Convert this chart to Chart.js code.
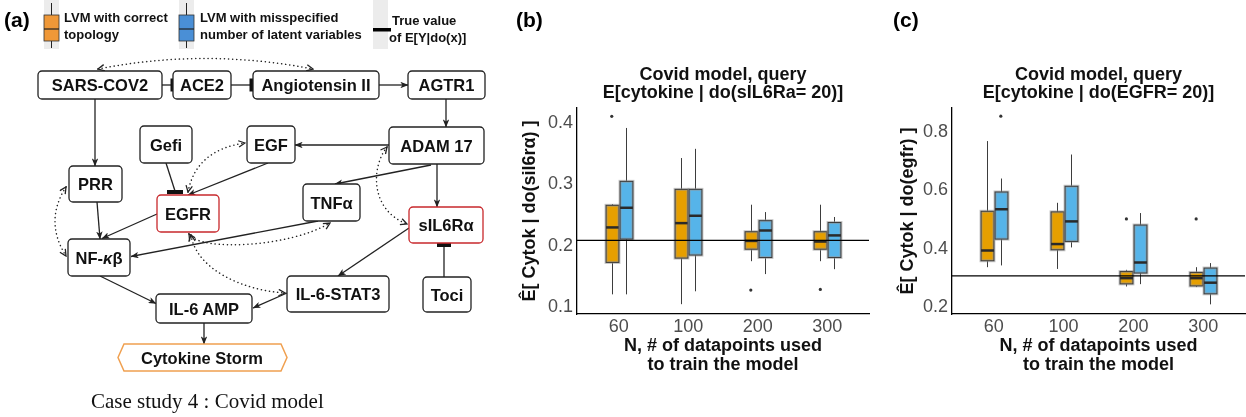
<!DOCTYPE html>
<html>
<head>
<meta charset="utf-8">
<script src="https://cdn.jsdelivr.net/npm/chart.js@4.4.1/dist/chart.umd.min.js"></script>
<style>
  body { margin: 0; width: 1246px; height: 417px; background: #fff; position: relative; overflow: hidden; font-family: 'Liberation Sans', Arial, sans-serif; }
  #esquema { position: absolute; left: 0; top: 0; z-index: 2; pointer-events: none; }
  .panel { position: absolute; top: 0; }
  #panelB { left: 500px; }
  #panelC { left: 880px; }
  .nodo { fill: #fff; stroke: #222; stroke-width: 1.3; }
  .rojo { stroke: #c8282c; }
  .txt { font: bold 16.5px 'Liberation Sans', Arial, sans-serif; text-anchor: middle; dominant-baseline: central; fill: #111; }
  .ley { font: bold 13px 'Liberation Sans', Arial, sans-serif; fill: #111; }
  .flecha { stroke: #222; stroke-width: 1.3; fill: none; marker-end: url(#punta); }
  .linea { stroke: #222; stroke-width: 1.3; fill: none; }
  .punteada { stroke: #222; stroke-width: 1.5; fill: none; stroke-dasharray: 0.1 4; stroke-linecap: round; marker-start: url(#abierta); marker-end: url(#abierta); }
</style>
</head>
<body>

<svg id="esquema" width="1246" height="417">
  <defs>
    <marker id="punta" viewBox="0 0 10 8" refX="9.5" refY="4" markerWidth="8" markerHeight="6.4" orient="auto" markerUnits="userSpaceOnUse">
      <path d="M0,0 L10,4 L0,8 L2.5,4 z" fill="#222"/>
    </marker>
    <marker id="abierta" viewBox="0 0 10 10" refX="9" refY="5" markerWidth="8" markerHeight="8" orient="auto-start-reverse" markerUnits="userSpaceOnUse">
      <path d="M1,1 L9,5 L1,9" fill="none" stroke="#222" stroke-width="1.6"/>
    </marker>
  </defs>

  <!-- etiquetas de panel -->
  <text x="4" y="26.5" style="font: bold 21px 'Liberation Sans', Arial, sans-serif;">(a)</text>
  <text x="516" y="26.5" style="font: bold 21px 'Liberation Sans', Arial, sans-serif;">(b)</text>
  <text x="893" y="26.5" style="font: bold 21px 'Liberation Sans', Arial, sans-serif;">(c)</text>

  <!-- leyenda -->
  <rect x="44" y="0" width="15" height="49" fill="#ececec"/>
  <line x1="51.5" y1="3" x2="51.5" y2="48" stroke="#222" stroke-width="1"/>
  <rect x="44" y="15" width="15" height="26" fill="#EF9838" stroke="#333" stroke-width="0.8"/>
  <line x1="44" y1="29" x2="59" y2="29" stroke="#222" stroke-width="1.2"/>
  <text class="ley" x="64" y="22">LVM with correct</text>
  <text class="ley" x="64" y="39">topology</text>

  <rect x="179" y="0" width="15" height="49" fill="#ececec"/>
  <line x1="186.5" y1="3" x2="186.5" y2="48" stroke="#222" stroke-width="1"/>
  <rect x="179" y="15" width="15" height="26" fill="#4A8FD6" stroke="#333" stroke-width="0.8"/>
  <line x1="179" y1="29" x2="194" y2="29" stroke="#222" stroke-width="1.2"/>
  <text class="ley" x="200" y="22">LVM with misspecified</text>
  <text class="ley" x="200" y="39">number of latent variables</text>

  <rect x="373" y="0" width="15" height="49" fill="#ececec"/>
  <rect x="373" y="28" width="18" height="3.5" fill="#000"/>
  <text class="ley" x="392" y="25">True value</text>
  <text class="ley" x="389" y="42">of E[Y|do(x)]</text>

  <!-- aristas -->
  <line class="linea" x1="162" y1="85" x2="171" y2="85"/>
  <rect x="170.5" y="78.5" width="3.5" height="13" fill="#111"/>
  <line class="linea" x1="231" y1="85" x2="250" y2="85"/>
  <rect x="249.5" y="78.5" width="3.5" height="13" fill="#111"/>
  <line class="flecha" x1="379" y1="85" x2="408" y2="85"/>
  <line class="flecha" x1="446" y1="99" x2="446" y2="127"/>
  <path class="punteada" d="M98,69 Q205,48 313,69"/>
  <line class="flecha" x1="95" y1="99" x2="95" y2="166"/>
  <line class="flecha" x1="389" y1="145" x2="295" y2="145"/>
  <line class="flecha" x1="268" y1="163" x2="188" y2="195"/>
  <line class="linea" x1="166" y1="163" x2="175" y2="191"/>
  <rect x="167" y="190" width="16" height="4" fill="#111"/>
  <path class="punteada" d="M188,192 Q196,150 245,143"/>
  <line class="flecha" x1="97" y1="202" x2="100" y2="239"/>
  <line class="flecha" x1="157" y1="214" x2="102" y2="238.5"/>
  <path class="punteada" d="M66,187 Q44,221 66,256"/>
  <line class="flecha" x1="431" y1="165" x2="335" y2="184"/>
  <line class="flecha" x1="437" y1="164" x2="437" y2="207"/>
  <line class="flecha" x1="318" y1="221" x2="131" y2="256.5"/>
  <path class="punteada" d="M189,234 C200,252 290,247 330,223"/>
  <path class="punteada" d="M387,147 C371,167 370,210 407,224"/>
  <line class="flecha" x1="409" y1="228" x2="338" y2="276"/>
  <line class="linea" x1="444" y1="277" x2="444" y2="246"/>
  <rect x="437" y="243" width="14" height="4" fill="#111"/>
  <line class="flecha" x1="100" y1="276" x2="156" y2="303.5"/>
  <line class="flecha" x1="287" y1="293" x2="253" y2="308"/>
  <path class="punteada" d="M191,235 C196,268 240,290 285,293"/>
  <line class="flecha" x1="204" y1="323" x2="204" y2="344"/>

  <!-- nodos -->
  <rect class="nodo" x="38" y="71" width="124" height="28" rx="4"/><text class="txt" x="100" y="85">SARS-COV2</text>
  <rect class="nodo" x="173" y="71" width="58" height="28" rx="4"/><text class="txt" x="202" y="85">ACE2</text>
  <rect class="nodo" x="253" y="71" width="126" height="28" rx="4"/><text class="txt" x="316" y="85">Angiotensin II</text>
  <rect class="nodo" x="408" y="71" width="77" height="28" rx="4"/><text class="txt" x="446.5" y="85">AGTR1</text>
  <rect class="nodo" x="140" y="126" width="52" height="37" rx="4"/><text class="txt" x="166" y="144.5">Gefi</text>
  <rect class="nodo" x="247" y="126" width="48" height="37" rx="4"/><text class="txt" x="271" y="144.5">EGF</text>
  <rect class="nodo" x="389" y="127" width="95" height="37" rx="4"/><text class="txt" x="436.5" y="145.5">ADAM 17</text>
  <rect class="nodo" x="69" y="166" width="53" height="36" rx="4"/><text class="txt" x="95.5" y="184">PRR</text>
  <rect class="nodo rojo" x="157" y="195" width="62" height="37" rx="4"/><text class="txt" x="188" y="213.5">EGFR</text>
  <rect class="nodo" x="303" y="184" width="57" height="37" rx="4"/><text class="txt" x="331.5" y="202.5">TNFα</text>
  <rect class="nodo rojo" x="409" y="207" width="74" height="36" rx="4"/><text class="txt" x="446" y="225">sIL6Rα</text>
  <rect class="nodo" x="68" y="239" width="62" height="37" rx="4"/><text class="txt" x="99" y="257.5">NF-<tspan font-style="italic">κ</tspan>β</text>
  <rect class="nodo" x="287" y="276" width="102" height="36" rx="4"/><text class="txt" x="338" y="294">IL-6-STAT3</text>
  <rect class="nodo" x="423" y="277" width="48" height="35" rx="4"/><text class="txt" x="447" y="294.5">Toci</text>
  <rect class="nodo" x="156" y="294" width="96" height="29" rx="4"/><text class="txt" x="204" y="308.5">IL-6 AMP</text>
  <polygon points="118,357.5 124,344 281,344 287,357.5 281,371 124,371" fill="#fff" stroke="#F0A050" stroke-width="1.5"/>
  <text class="txt" x="202" y="357.5">Cytokine Storm</text>

  <text x="91" y="408" style="font: 21px 'Liberation Serif', 'Times New Roman', serif;" fill="#111">Case study 4 : Covid model</text>
</svg>

<div class="panel" id="panelB"><canvas id="chartB" width="380" height="417"></canvas></div>
<div class="panel" id="panelC"><canvas id="chartC" width="369" height="417"></canvas></div>

<script>
// --- DATOS ---
const categorias = ['60', '100', '200', '300'];

// cada caja: [bigote inferior, Q1, mediana, Q3, bigote superior]
const sil6Correcta = [[0.121, 0.173, 0.230, 0.266, 0.268], [0.105, 0.180, 0.237, 0.292, 0.343], [0.175, 0.1945, 0.208, 0.223, 0.267], [0.175, 0.1945, 0.207, 0.223, 0.267]];
const sil6Errada   = [[0.121, 0.211, 0.262, 0.305, 0.392], [0.126, 0.185, 0.249, 0.292, 0.358], [0.154, 0.181, 0.225, 0.241, 0.255], [0.162, 0.181, 0.217, 0.238, 0.247]];
const sil6AtipCorrecta = [[0.411], [], [0.128], [0.129]];
const sil6AtipErrada   = [[], [], [], []];
const sil6Real = 0.209;
const sil6Ticks = [0.1, 0.2, 0.3, 0.4];
const sil6Rango = [0.089, 0.4245];

const egfrCorrecta = [[0.337, 0.359, 0.394, 0.528, 0.768], [0.331, 0.3965, 0.416, 0.526, 0.557], [0.271, 0.280, 0.2995, 0.322, 0.328], [0.269, 0.273, 0.2995, 0.319, 0.337]];
const egfrErrada   = [[0.343, 0.433, 0.535, 0.594, 0.640], [0.4045, 0.425, 0.4935, 0.6135, 0.722], [0.279, 0.317, 0.353, 0.481, 0.522], [0.210, 0.246, 0.284, 0.334, 0.351]];
const egfrAtipCorrecta = [[], [], [0.502], [0.502]];
const egfrAtipErrada   = [[0.853], [], [], []];
const egfrReal = 0.307;
const egfrTicks = [0.2, 0.4, 0.6, 0.8];
const egfrRango = [0.177, 0.881];

const tituloB = ['Covid model, query', 'E[cytokine | do(sIL6Ra= 20)]'];
const tituloC = ['Covid model, query', 'E[cytokine | do(EGFR= 20)]'];
const ejeYB = 'Ê[ Cytok | do(sil6rα) ]';
const ejeYC = 'Ê[ Cytok | do(egfr) ]';
const ejeX = ['N, # of datapoints used', 'to train the model'];

const colores = { naranja: '#E69F00', azul: '#56B4E9', borde: '#3d3d3d', gris: '#4D4D4D' };
const ANCHO_CAJA = 0.185;
const DESP = 0.1;

Chart.defaults.font.family = "'Liberation Sans', Arial, sans-serif";

// --- PLUGINS ---
function pluginCajas(series) {
    return {
        id: 'cajas',
        beforeDatasetsDraw(chart) {
            const { ctx, scales: { x, y } } = chart;
            const mitad = (x.getPixelForValue(1) - x.getPixelForValue(0)) * ANCHO_CAJA / 2;
            ctx.save();
            series.forEach(s => {
                s.datos.forEach((d, i) => {
                    const [bajo, q1, med, q3, alto] = d;
                    const cx = Math.round(x.getPixelForValue(i + s.desp)) + 0.5;
                    const yTop = y.getPixelForValue(q3), yBot = y.getPixelForValue(q1);
                    ctx.strokeStyle = colores.borde;
                    ctx.lineWidth = 1;
                    ctx.beginPath();
                    ctx.moveTo(cx, y.getPixelForValue(alto)); ctx.lineTo(cx, yTop);
                    ctx.moveTo(cx, yBot); ctx.lineTo(cx, y.getPixelForValue(bajo));
                    ctx.stroke();
                    ctx.fillStyle = s.color;
                    ctx.fillRect(cx - mitad, yTop, 2 * mitad, yBot - yTop);
                    ctx.strokeStyle = 'rgba(150,150,150,0.55)';
                    ctx.lineWidth = 3;
                    ctx.strokeRect(cx - mitad, yTop, 2 * mitad, yBot - yTop);
                    ctx.strokeStyle = colores.borde;
                    ctx.lineWidth = 1;
                    ctx.strokeRect(cx - mitad, yTop, 2 * mitad, yBot - yTop);
                    const yMed = y.getPixelForValue(med);
                    ctx.strokeStyle = '#2a2a2a';
                    ctx.lineWidth = 2.5;
                    ctx.beginPath();
                    ctx.moveTo(cx - mitad, yMed); ctx.lineTo(cx + mitad, yMed);
                    ctx.stroke();
                });
            });
            ctx.restore();
        }
    };
}

function pluginTitulo(lineas) {
    return {
        id: 'tituloPanel',
        afterDraw(chart) {
            const { ctx, chartArea } = chart;
            const cx = (chartArea.left + chartArea.right) / 2;
            ctx.save();
            ctx.font = "bold 18px 'Liberation Sans', Arial, sans-serif";
            ctx.fillStyle = '#111';
            ctx.textAlign = 'center';
            ctx.textBaseline = 'middle';
            lineas.forEach((t, i) => ctx.fillText(t, cx, 75 + i * 18));
            ctx.restore();
        }
    };
}

function puntosAtipicos(lista, desp) {
    return lista.flatMap((vals, i) => vals.map(v => ({ x: i + desp, y: v })));
}

// --- GRAFICOS ---
function crearPanel(id, cfg) {
    const ctx = document.getElementById(id).getContext('2d');
    return new Chart(ctx, {
        type: 'scatter',
        data: {
            datasets: [
                {
                    data: puntosAtipicos(cfg.atipCorrecta, -DESP).concat(puntosAtipicos(cfg.atipErrada, DESP)),
                    pointRadius: 1.6,
                    pointBackgroundColor: '#333',
                    pointBorderWidth: 0
                },
                {
                    type: 'line',
                    data: [{ x: -0.6, y: cfg.real }, { x: 3.6, y: cfg.real }],
                    borderColor: '#000',
                    borderWidth: 1.3,
                    pointRadius: 0
                }
            ]
        },
        options: {
            responsive: false,
            animation: false,
            layout: { padding: { top: 108, right: cfg.padDer, bottom: 0, left: 0 } },
            plugins: { legend: { display: false }, tooltip: { enabled: false } },
            scales: {
                x: {
                    type: 'linear', min: -0.6, max: 3.6,
                    afterBuildTicks: s => { s.ticks = categorias.map((c, i) => ({ value: i })); },
                    afterFit: s => { s.height = 103; },
                    grid: { display: false, drawTicks: false },
                    border: { display: true, color: '#000', width: 1.3 },
                    ticks: { color: colores.gris, font: { size: 18 }, padding: 2, maxRotation: 0, callback: v => categorias[v] },
                    title: { display: true, text: ejeX, color: '#111', font: { size: 18, weight: 'bold', lineHeight: 1.06 }, padding: { top: 0, bottom: 42 } }
                },
                y: {
                    type: 'linear', min: cfg.rango[0], max: cfg.rango[1],
                    afterBuildTicks: s => { s.ticks = cfg.ticks.map(v => ({ value: v })); },
                    afterFit: s => { s.width = cfg.anchoY; },
                    grid: { display: false, drawTicks: false },
                    border: { display: true, color: '#000', width: 1.3 },
                    ticks: { color: colores.gris, font: { size: 18 }, padding: 4, callback: v => v.toFixed(1) },
                    title: { display: true, text: cfg.ejeY, color: '#111', font: { size: 18, weight: 'bold' }, padding: { top: cfg.padTitY, bottom: 0 } }
                }
            }
        },
        plugins: [
            pluginCajas([
                { datos: cfg.correcta, desp: -DESP, color: colores.naranja },
                { datos: cfg.errada, desp: DESP, color: colores.azul }
            ]),
            pluginTitulo(cfg.titulo)
        ]
    });
}

crearPanel('chartB', {
    correcta: sil6Correcta, errada: sil6Errada,
    atipCorrecta: sil6AtipCorrecta, atipErrada: sil6AtipErrada,
    real: sil6Real, ticks: sil6Ticks, rango: sil6Rango,
    titulo: tituloB, ejeY: ejeYB,
    anchoY: 77, padDer: 11, padTitY: 19
});

crearPanel('chartC', {
    correcta: egfrCorrecta, errada: egfrErrada,
    atipCorrecta: egfrAtipCorrecta, atipErrada: egfrAtipErrada,
    real: egfrReal, ticks: egfrTicks, rango: egfrRango,
    titulo: tituloC, ejeY: ejeYC,
    anchoY: 72, padDer: 0, padTitY: 17
});
</script>
</body>
</html>
